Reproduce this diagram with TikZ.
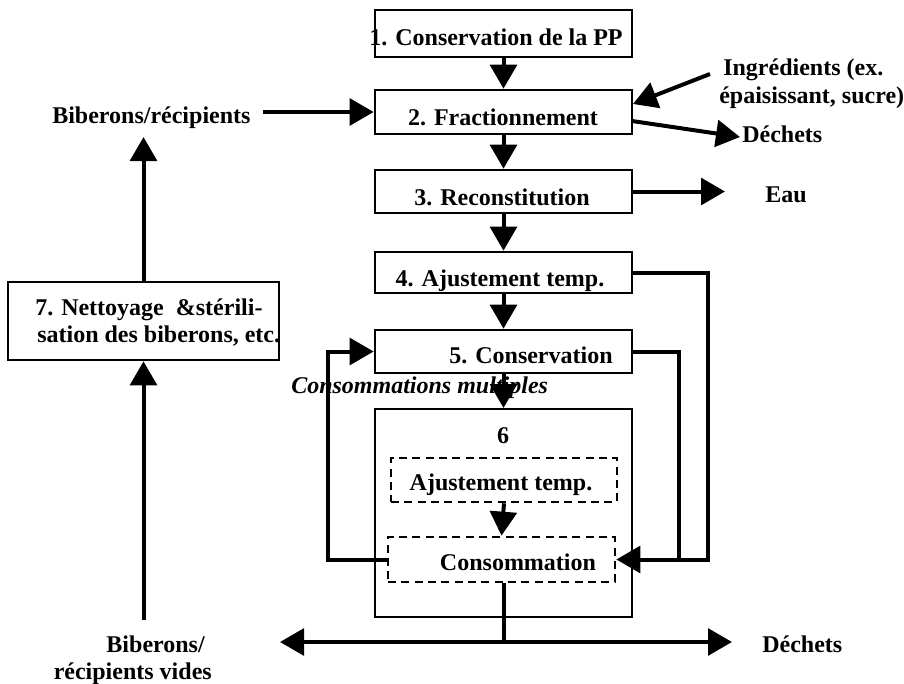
\documentclass[tikz,border=0pt]{standalone}
\usepackage{fontspec}
\setmainfont{Liberation Serif}
\usetikzlibrary{arrows.meta}
\begin{document}
\begin{tikzpicture}[x=0.75pt,y=-0.75pt,
  box/.style={draw,line width=2pt,minimum width=192.75pt,inner sep=0pt},
  bigbox/.style={draw,line width=1.5pt,minimum width=192.75pt,inner sep=0pt},
  dbox/.style={draw,line width=2pt,dash pattern=on 6pt off 4pt,inner sep=0pt},
  lbl/.style={inner sep=0pt,font=\bfseries\fontsize{18}{21}\selectfont},
  conn/.style={line width=3pt},
  arr/.style={conn,-{Triangle[length=18pt,width=20pt]}}
]
\useasboundingbox (0,0) rectangle (904,683);
% boxes
\node[box,minimum height=35.25pt] (b1) at (503.5,33.5) {};
\node[box,minimum height=33pt] (b2) at (503.5,112) {};
\node[box,minimum height=32.25pt] (b3) at (503.5,191.5) {};
\node[box,minimum height=30.75pt] (b4) at (503.5,272.5) {};
\node[box,minimum height=32.25pt] (b5) at (503.5,351.5) {};
\node[bigbox,minimum height=156pt] (b6) at (503.5,513) {};
\node[dbox,minimum width=169.5pt,minimum height=33pt] (d1) at (504,480) {};
\node[dbox,minimum width=170.25pt,minimum height=33.75pt] (d2) at (501.5,559.5) {};
\node[box,minimum width=203.25pt,minimum height=58.5pt] (b7) at (143.5,321) {};
% texts
\node[lbl,anchor=base] (t1) at (496,45) {1. Conservation de la PP};
\node[lbl,anchor=base] (t2) at (503,125) {2. Fractionnement};
\node[lbl,anchor=base] (t3) at (502,205) {3. Reconstitution};
\node[lbl,anchor=base] (t4) at (500,286) {4. Ajustement temp.};
\node[lbl,anchor=base] (t5) at (531,363) {5. Conservation};
\node[lbl,anchor=base west,font=\bfseries\itshape\fontsize{18}{21}\selectfont] (tm) at (291,393) {Consommations multiples};
\node[lbl,anchor=base] (t6) at (503,443) {6};
\node[lbl,anchor=base] (td1) at (501,490) {Ajustement temp.};
\node[lbl,anchor=base] (td2) at (518,570) {Consommation};
\node[lbl,anchor=base west] (t7a) at (35,315) {7. Nettoyage \ \&stérili-};
\node[lbl,anchor=base west] (t7b) at (37,342) {sation des biberons, etc.};
\node[lbl,anchor=base west] (tbib) at (52,123) {Biberons/récipients};
\node[lbl,anchor=base west] (ting1) at (723,75) {Ingrédients (ex.};
\node[lbl,anchor=base west] (ting2) at (719,103) {épaisissant, sucre)};
\node[lbl,anchor=base west] (tdech1) at (742,142) {Déchets};
\node[lbl,anchor=base west] (teau) at (765,202) {Eau};
\node[lbl,anchor=base east] (tbv1) at (205,652) {Biberons/};
\node[lbl,anchor=base east] (tbv2) at (212,679) {récipients vides};
\node[lbl,anchor=base west] (tdech2) at (762,652) {Déchets};
% coordinates
\coordinate (cbib) at (263,112);
\coordinate (cingA) at (710,74);
\coordinate (cingB) at (633,104);
\coordinate (cdA) at (632,121);
\coordinate (cdB) at (740,137);
\coordinate (ceau) at (725,191.5);
\coordinate (c7top) at (143.5,137);
\coordinate (c7bot) at (143.5,620);
\coordinate (r4) at (708,272.5);
\coordinate (r4b) at (708,559.5);
\coordinate (r5) at (679,351.5);
\coordinate (r5b) at (679,559.5);
\coordinate (l5) at (328,351.5);
\coordinate (l5b) at (328,559.5);
\coordinate (j) at (503.5,642);
\coordinate (jl) at (280,642);
\coordinate (jr) at (732,642);
% connectors
\draw[arr] (b1.south) -- (b2.north);
\draw[arr] (b2.south) -- (b3.north);
\draw[arr] (b3.south) -- (b4.north);
\draw[arr] (b4.south) -- (b5.north);
\draw[arr] (b5.south) -- (b6.north);
\draw[arr] (d1.south) -- (d2.north);
\draw[arr] (cbib) -- (b2.west);
\draw[arr] (cingA) -- (cingB);
\draw[arr] (cdA) -- (cdB);
\draw[arr] (b3.east) -- (ceau);
\draw[arr] (b7.north) -- (c7top);
\draw[arr] (c7bot) -- (b7.south);
\draw[arr] (b4.east) -- (r4) -- (r4b) -- (d2.east);
\draw[conn] (b5.east) -- (r5) -- (r5b);
\draw[arr] (d2.west) -- (l5b) -- (l5) -- (b5.west);
\draw[conn] (j |- d2.south) -- (j);
\draw[conn,{Triangle[length=18pt,width=20pt]}-{Triangle[length=18pt,width=20pt]}] (jl) -- (jr);
\end{tikzpicture}
\end{document}
